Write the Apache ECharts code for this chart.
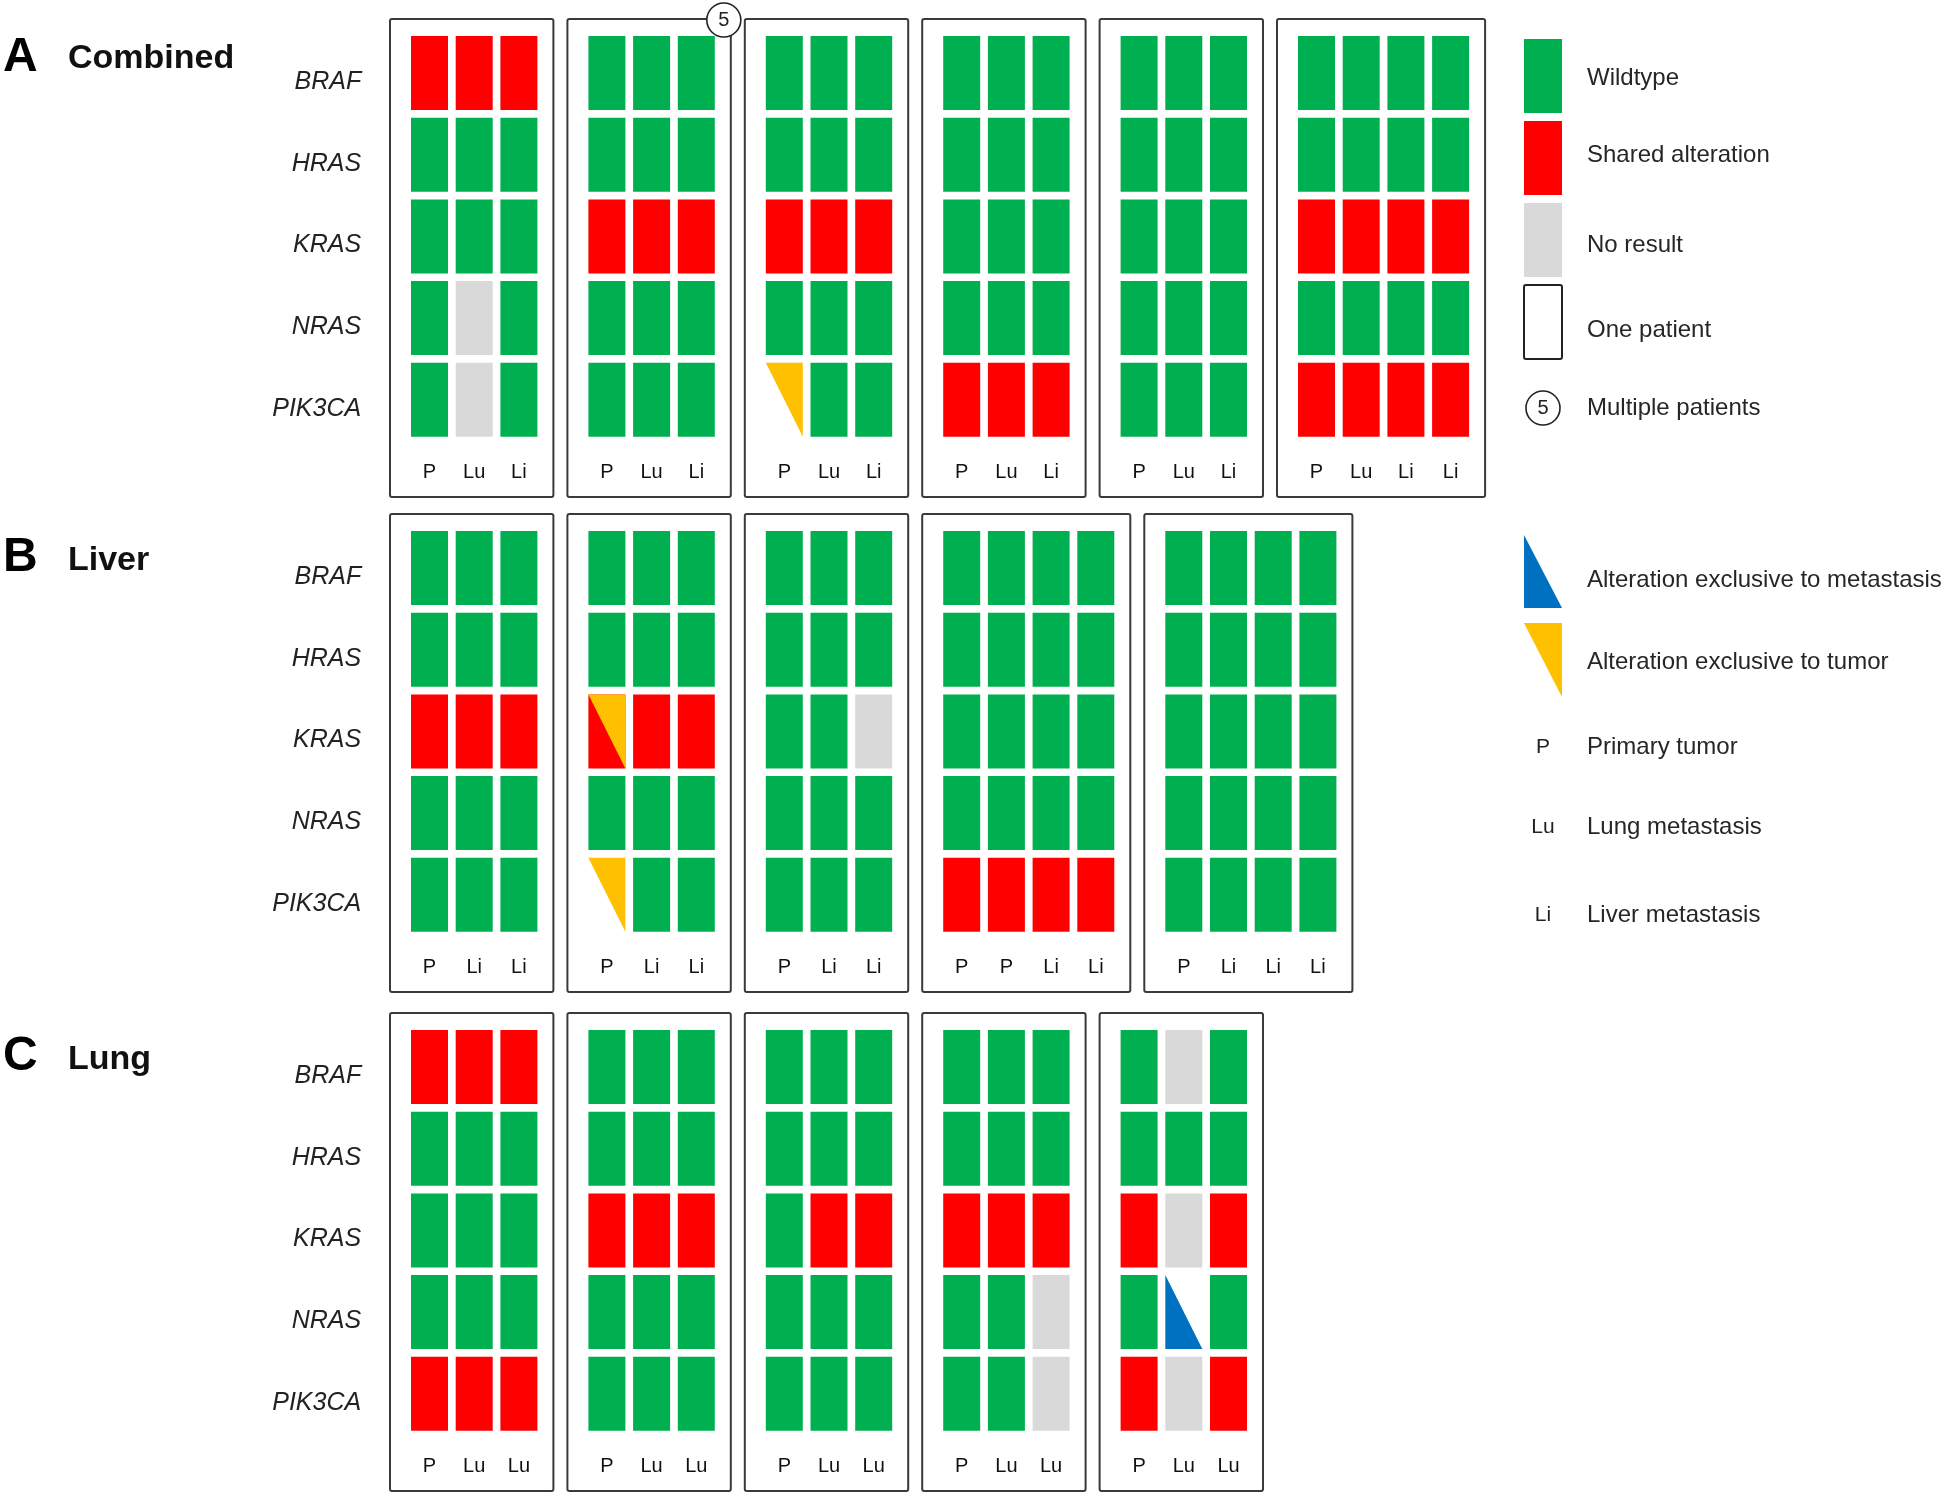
<!DOCTYPE html>
<html>
<head>
<meta charset="utf-8">
<title>Gene alteration concordance</title>
<script src="https://cdn.jsdelivr.net/npm/echarts@6/dist/echarts.min.js"></script>
<style>
  html, body { margin: 0; padding: 0; background: #fff; }
  #chart { width: 1946px; height: 1496px; }
</style>
</head>
<body>
<div id="chart"></div>
<script>
const genes = ['BRAF', 'HRAS', 'KRAS', 'NRAS', 'PIK3CA']

// W wildtype, S shared alteration, N no result,
// T exclusive to tumor, M exclusive to metastasis, ST shared + exclusive to tumor
const combinedSamples = [
  ['P', 'Lu', 'Li'], ['P', 'Lu', 'Li'], ['P', 'Lu', 'Li'],
  ['P', 'Lu', 'Li'], ['P', 'Lu', 'Li'], ['P', 'Lu', 'Li', 'Li'],
]
const combinedCounts = [1, 5, 1, 1, 1, 1]
const combinedStatus = [
  [['S', 'S', 'S'], ['W', 'W', 'W'], ['W', 'W', 'W'], ['W', 'N', 'W'], ['W', 'N', 'W']],
  [['W', 'W', 'W'], ['W', 'W', 'W'], ['S', 'S', 'S'], ['W', 'W', 'W'], ['W', 'W', 'W']],
  [['W', 'W', 'W'], ['W', 'W', 'W'], ['S', 'S', 'S'], ['W', 'W', 'W'], ['T', 'W', 'W']],
  [['W', 'W', 'W'], ['W', 'W', 'W'], ['W', 'W', 'W'], ['W', 'W', 'W'], ['S', 'S', 'S']],
  [['W', 'W', 'W'], ['W', 'W', 'W'], ['W', 'W', 'W'], ['W', 'W', 'W'], ['W', 'W', 'W']],
  [['W', 'W', 'W', 'W'], ['W', 'W', 'W', 'W'], ['S', 'S', 'S', 'S'], ['W', 'W', 'W', 'W'], ['S', 'S', 'S', 'S']],
]

const liverSamples = [
  ['P', 'Li', 'Li'], ['P', 'Li', 'Li'], ['P', 'Li', 'Li'],
  ['P', 'P', 'Li', 'Li'], ['P', 'Li', 'Li', 'Li'],
]
const liverCounts = [1, 1, 1, 1, 1]
const liverStatus = [
  [['W', 'W', 'W'], ['W', 'W', 'W'], ['S', 'S', 'S'], ['W', 'W', 'W'], ['W', 'W', 'W']],
  [['W', 'W', 'W'], ['W', 'W', 'W'], ['ST', 'S', 'S'], ['W', 'W', 'W'], ['T', 'W', 'W']],
  [['W', 'W', 'W'], ['W', 'W', 'W'], ['W', 'W', 'N'], ['W', 'W', 'W'], ['W', 'W', 'W']],
  [['W', 'W', 'W', 'W'], ['W', 'W', 'W', 'W'], ['W', 'W', 'W', 'W'], ['W', 'W', 'W', 'W'], ['S', 'S', 'S', 'S']],
  [['W', 'W', 'W', 'W'], ['W', 'W', 'W', 'W'], ['W', 'W', 'W', 'W'], ['W', 'W', 'W', 'W'], ['W', 'W', 'W', 'W']],
]

const lungSamples = [
  ['P', 'Lu', 'Lu'], ['P', 'Lu', 'Lu'], ['P', 'Lu', 'Lu'], ['P', 'Lu', 'Lu'], ['P', 'Lu', 'Lu'],
]
const lungCounts = [1, 1, 1, 1, 1]
const lungStatus = [
  [['S', 'S', 'S'], ['W', 'W', 'W'], ['W', 'W', 'W'], ['W', 'W', 'W'], ['S', 'S', 'S']],
  [['W', 'W', 'W'], ['W', 'W', 'W'], ['S', 'S', 'S'], ['W', 'W', 'W'], ['W', 'W', 'W']],
  [['W', 'W', 'W'], ['W', 'W', 'W'], ['W', 'S', 'S'], ['W', 'W', 'W'], ['W', 'W', 'W']],
  [['W', 'W', 'W'], ['W', 'W', 'W'], ['S', 'S', 'S'], ['W', 'W', 'N'], ['W', 'W', 'N']],
  [['W', 'N', 'W'], ['W', 'W', 'W'], ['S', 'N', 'S'], ['W', 'M', 'W'], ['S', 'N', 'S']],
]

const legendLabels = ['Wildtype', 'Shared alteration', 'No result', 'One patient', 'Multiple patients',
  'Alteration exclusive to metastasis', 'Alteration exclusive to tumor']
const sampleKeys = ['P', 'Lu', 'Li']
const sampleNames = ['Primary tumor', 'Lung metastasis', 'Liver metastasis']

const statusKinds = ['W', 'S', 'N', 'T', 'M', 'ST']
const GREEN = '#00b050'
const RED = '#ff0000'
const GREY = '#d9d9d9'
const YELLOW = '#ffc000'
const BLUE = '#0070c0'
const FONT = 'Liberation Sans'

const PITCH_X = 44.7
const PITCH_Y = 81.7
const CELL_W = 37
const CELL_H = 74
const BOX_H = 478
const BOX_GAP = 14
const FIRST_LEFT = 390

const panels = [
  { letter: 'A', name: 'Combined', top: 19, letterY: 58, nameY: 59, samples: combinedSamples, status: combinedStatus, counts: combinedCounts },
  { letter: 'B', name: 'Liver', top: 514, letterY: 558, nameY: 561, samples: liverSamples, status: liverStatus, counts: liverCounts },
  { letter: 'C', name: 'Lung', top: 1013, letterY: 1057, nameY: 1060, samples: lungSamples, status: lungStatus, counts: lungCounts },
]

function renderCell(params, api) {
  const c = api.coord([api.value(0), api.value(1)])
  const band = api.size([1, 1])
  const w = band[0] * CELL_W / PITCH_X
  const h = band[1] * CELL_H / PITCH_Y
  const x0 = c[0] - w / 2
  const y0 = c[1] - h / 2
  const x1 = x0 + w
  const y1 = y0 + h
  const rect = (color) => ({ type: 'rect', shape: { x: x0, y: y0, width: w, height: h }, style: { fill: color } })
  const tumorTri = { type: 'polygon', shape: { points: [[x0, y0], [x1, y0], [x1, y1]] }, style: { fill: YELLOW } }
  const metTri = { type: 'polygon', shape: { points: [[x0, y0], [x0, y1], [x1, y1]] }, style: { fill: BLUE } }
  switch (statusKinds[api.value(2)]) {
    case 'S': return rect(RED)
    case 'N': return rect(GREY)
    case 'T': return tumorTri
    case 'M': return metTri
    case 'ST': return { type: 'group', children: [rect(RED), tumorTri] }
    default: return rect(GREEN)
  }
}

const grid = []
const xAxis = []
const yAxis = []
const series = []
const graphic = []

panels.forEach((panel) => {
  graphic.push({
    type: 'text', x: 3, y: panel.letterY,
    style: { text: panel.letter, font: `bold 48px "${FONT}"`, fill: '#000', verticalAlign: 'middle' },
  })
  graphic.push({
    type: 'text', x: 68, y: panel.nameY,
    style: { text: panel.name, font: `bold 34px "${FONT}"`, fill: '#111', verticalAlign: 'middle' },
  })

  let left = FIRST_LEFT
  panel.samples.forEach((samples, p) => {
    const n = samples.length
    const g = grid.length
    const boxW = 21 + n * PITCH_X - (PITCH_X - CELL_W) + 16
    grid.push({
      left: left + 21 - (PITCH_X - CELL_W) / 2,
      top: panel.top + 17 - (PITCH_Y - CELL_H) / 2,
      width: n * PITCH_X,
      height: genes.length * PITCH_Y,
    })
    xAxis.push({
      type: 'category', gridIndex: g, data: samples, position: 'bottom',
      axisLine: { show: false }, axisTick: { show: false }, splitLine: { show: false },
      axisLabel: { interval: 0, margin: 22, fontSize: 20, color: '#111', fontFamily: FONT },
    })
    yAxis.push({
      type: 'category', gridIndex: g, data: genes, inverse: true,
      axisLine: { show: false }, axisTick: { show: false }, splitLine: { show: false },
      axisLabel: {
        show: p === 0, interval: 0, margin: 46, fontSize: 25, fontStyle: 'italic',
        color: '#222', fontFamily: FONT, verticalAlign: 'top', lineHeight: 18,
      },
    })
    const data = []
    panel.status[p].forEach((row, gi) => {
      row.forEach((s, si) => data.push([si, gi, statusKinds.indexOf(s)]))
    })
    series.push({
      type: 'custom', name: `${panel.name} ${p + 1}`, xAxisIndex: g, yAxisIndex: g,
      renderItem: renderCell, data, silent: true,
    })

    // patient frame
    graphic.push({
      type: 'rect', shape: { x: left, y: panel.top, width: boxW, height: BOX_H, r: 2 },
      style: { fill: 'none', stroke: '#3a3a3a', lineWidth: 2 },
    })
    if (panel.counts[p] > 1) {
      const cx = left + boxW - 7
      graphic.push({
        type: 'circle', shape: { cx, cy: panel.top + 1, r: 17 }, z: 10,
        style: { fill: '#fff', stroke: '#222', lineWidth: 1.6 },
      })
      graphic.push({
        type: 'text', x: cx, y: panel.top + 1, z: 11,
        style: { text: String(panel.counts[p]), font: `20px "${FONT}"`, fill: '#222', align: 'center', verticalAlign: 'middle' },
      })
    }
    left += boxW + BOX_GAP
  })
})

// legend
const LX = 1524
const LW = 38
const TX = 1587
const legendText = (text, y) => ({
  type: 'text', x: TX, y,
  style: { text, font: `24px "${FONT}"`, fill: '#262626', verticalAlign: 'middle' },
})
const swatchTops = [39, 121, 203]
const swatchColors = [GREEN, RED, GREY]
const swatchTextY = [78, 155, 245]
swatchTops.forEach((y, i) => {
  graphic.push({ type: 'rect', shape: { x: LX, y, width: LW, height: 74 }, style: { fill: swatchColors[i] } })
  graphic.push(legendText(legendLabels[i], swatchTextY[i]))
})
graphic.push({
  type: 'rect', shape: { x: LX, y: 285, width: LW, height: 74, r: 2 },
  style: { fill: '#fff', stroke: '#222', lineWidth: 2 },
})
graphic.push(legendText(legendLabels[3], 330))
graphic.push({ type: 'circle', shape: { cx: LX + LW / 2, cy: 408, r: 17 }, style: { fill: '#fff', stroke: '#222', lineWidth: 1.6 } })
graphic.push({
  type: 'text', x: LX + LW / 2, y: 408,
  style: { text: '5', font: `20px "${FONT}"`, fill: '#222', align: 'center', verticalAlign: 'middle' },
})
graphic.push(legendText(legendLabels[4], 408))
graphic.push({
  type: 'polygon', shape: { points: [[LX, 535], [LX, 608], [LX + LW, 608]] }, style: { fill: BLUE },
})
graphic.push(legendText(legendLabels[5], 580))
graphic.push({
  type: 'polygon', shape: { points: [[LX, 623], [LX + LW, 623], [LX + LW, 697]] }, style: { fill: YELLOW },
})
graphic.push(legendText(legendLabels[6], 662))
const keyY = [747, 827, 915]
sampleKeys.forEach((k, i) => {
  graphic.push({
    type: 'text', x: LX + LW / 2, y: keyY[i],
    style: { text: k, font: `21px "${FONT}"`, fill: '#222', align: 'center', verticalAlign: 'middle' },
  })
  graphic.push(legendText(sampleNames[i], keyY[i]))
})

const chart = echarts.init(document.getElementById('chart'))
chart.setOption({
  animation: false,
  backgroundColor: '#fff',
  grid,
  xAxis,
  yAxis,
  series,
  graphic,
})
</script>
</body>
</html>
